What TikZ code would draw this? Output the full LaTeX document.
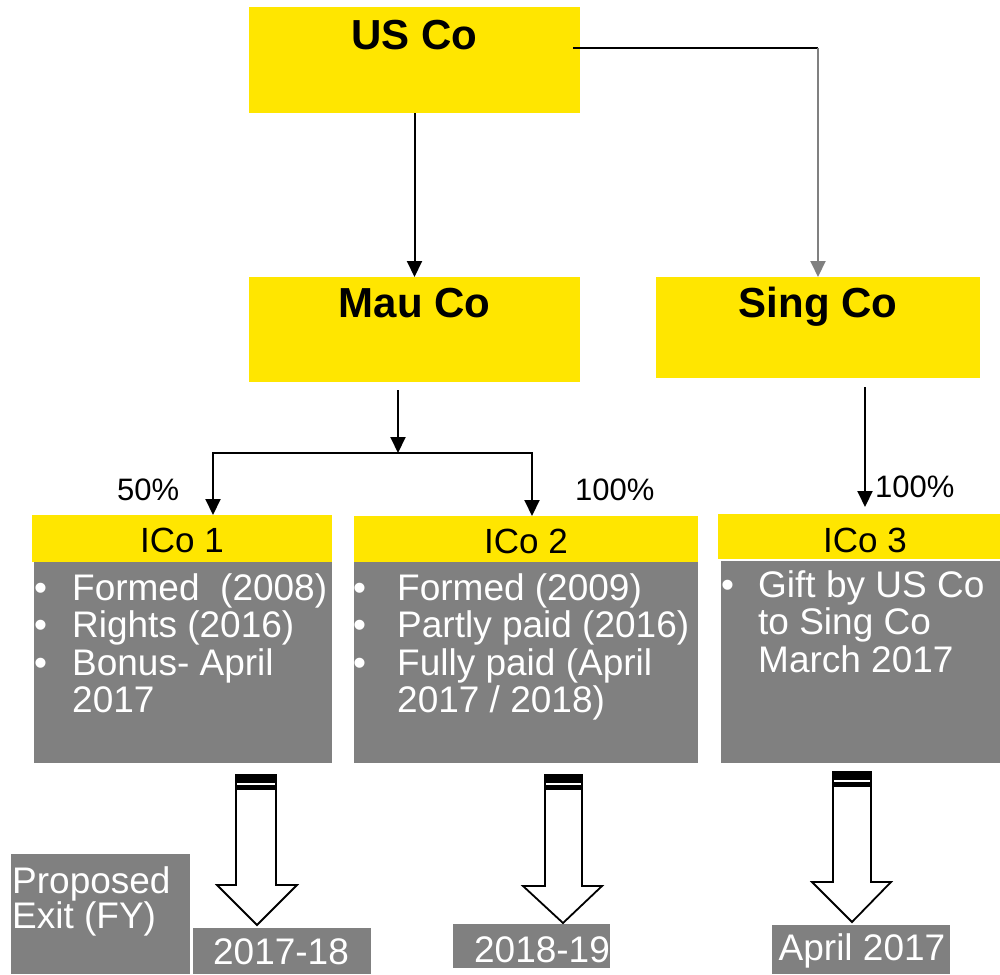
\documentclass[tikz,border=0pt]{standalone}
\usepackage{fontspec}
\setmainfont{Liberation Sans}
\usetikzlibrary{arrows.meta}
\definecolor{brandyellow}{HTML}{FFE600}
\definecolor{slategrey}{HTML}{808080}

% one bullet item with a hanging indent of #1
\newcommand\bulletitem[2]{\par\noindent\hangindent=#1\hangafter=1\makebox[#1][l]{\kern1pt\textbullet}#2}

% hollow down arrow with a striped tail:
% #1,#2 shaft left/right, #3 top, #4 shoulder, #5,#6 head left/right, #7,#8 tip
\newcommand\exitarrow[8]{%
  \filldraw[fill=white, draw=black, line width=1.8pt, line join=miter]
    (#1,#3) -- (#2,#3) -- (#2,#4) -- (#6,#4) -- (#7,#8) -- (#5,#4) -- (#1,#4) -- cycle;
  \fill[black] (#1-0.9,#3-0.9) rectangle (#2+0.9,#3+15);
  \fill[white] (#1+1,#3+7.5) rectangle (#2-1,#3+10);
}

\begin{document}
\begin{tikzpicture}[x=1pt, y=-1pt,
  ybox/.style={fill=brandyellow, draw=none, inner sep=0pt, outer sep=0pt, anchor=north west},
  gbox/.style={fill=slategrey, draw=none, inner sep=0pt, outer sep=0pt, anchor=north west},
  title/.style={inner sep=0pt, anchor=base, font=\fontsize{42}{46}\selectfont\bfseries},
  head/.style={inner sep=0pt, anchor=base, font=\fontsize{35}{38}\selectfont},
  body/.style={inner sep=0pt, anchor=base west, text=white, font=\fontsize{37}{37.5}\selectfont},
  datetxt/.style={inner sep=0pt, anchor=base, text=white, font=\fontsize{37}{38}\selectfont},
  pct/.style={inner sep=0pt, anchor=base west, font=\fontsize{31}{34}\selectfont},
  link/.style={line width=2pt},
  conn/.style={line width=2pt, -{Triangle[length=16pt,width=15pt]}},
]
\useasboundingbox (0,0) rectangle (1000,974);

% top level companies
\node[ybox, minimum width=331pt, minimum height=106pt] (usbox) at (249,7) {};
\node[title] (ustitle) at (414.5,49) {US Co};
\node[ybox, minimum width=331pt, minimum height=105pt] (maubox) at (249,277) {};
\node[title] (mautitle) at (414.5,317) {Mau Co};
\node[ybox, minimum width=324pt, minimum height=101pt] (singbox) at (656,277) {};
\node[title] (singtitle) at (818,317) {Sing Co};

% Indian companies: yellow header over grey body
\node[ybox, minimum width=300pt, minimum height=47pt] (ico1head) at (32,515) {};
\node[gbox, minimum width=298pt, minimum height=201pt] (ico1body) at (34,562) {};
\node[head] (ico1title) at (182,552) {ICo 1};

\node[ybox, minimum width=344pt, minimum height=46pt] (ico2head) at (354,516) {};
\node[gbox, minimum width=344pt, minimum height=201pt] (ico2body) at (354,562) {};
\node[head] (ico2title) at (526,553) {ICo 2};

\node[ybox, minimum width=282pt, minimum height=45pt] (ico3head) at (718,514) {};
\node[gbox, minimum width=279pt, minimum height=202pt] (ico3body) at (721,561) {};
\node[head] (ico3title) at (865,552) {ICo 3};

% bullet lists
\node[body] (ico1list) at (33,600) {\parbox[t]{300pt}{\raggedright
  \bulletitem{39pt}{Formed\ \ (2008)}
  \bulletitem{39pt}{Rights (2016)}
  \bulletitem{39pt}{Bonus- April\newline 2017}}};
\node[body] (ico2list) at (352,600) {\parbox[t]{345pt}{\raggedright
  \bulletitem{45pt}{Formed (2009)}
  \bulletitem{45pt}{Partly paid (2016)}
  \bulletitem{45pt}{Fully paid (April\newline 2017 / 2018)}}};
\node[body] (ico3list) at (720,597) {\parbox[t]{280pt}{\raggedright
  \bulletitem{38pt}{Gift by US Co\newline to Sing Co\newline March 2017}}};

% shareholding percentages
\node[pct] (pct1) at (117,500) {50\%};
\node[pct] (pct2) at (575,500) {100\%};
\node[pct] (pct3) at (875,497) {100\%};

% ownership connectors
\draw[conn] (usbox.south) -- (maubox.north);
\coordinate (usout) at (573,48);
\coordinate (uscorner) at (818,48);
\draw[link] (usout) -- (uscorner);
\draw[conn, draw=slategrey, color=slategrey] (uscorner) -- (singbox.north);

\coordinate (mauout) at (398,390);
\coordinate (bus) at (398,453);
\coordinate (busleft) at (213,453);
\coordinate (busright) at (532,453);
\draw[conn] (mauout) -- (bus);
\draw[link, line cap=rect] (busleft) -- (busright);
\draw[conn] (busleft) -- (busleft |- ico1head.north);
\draw[conn] (busright) -- (busright |- ico2head.north);

\coordinate (singout) at (865,387);
\draw[conn] (singout) -- (singout |- 0,507);

% proposed exit labels
\node[gbox, minimum width=179pt, minimum height=120pt] (exitbox) at (11,854) {};
\node[body, font=\fontsize{37}{35}\selectfont] (exitlabel) at (12,893)
  {\parbox[t]{178pt}{\raggedright Proposed\newline Exit (FY)}};

\node[gbox, minimum width=178pt, minimum height=46pt] (date1box) at (193,928) {};
\node[datetxt] (date1) at (281,964) {2017-18};
\node[gbox, minimum width=157pt, minimum height=44pt] (date2box) at (453,924) {};
\node[datetxt] (date2) at (542,962) {2018-19};
\node[gbox, minimum width=178pt, minimum height=49pt] (date3box) at (772,925) {};
\node[datetxt] (date3) at (862,960) {April 2017};

% exit arrows from each company to its exit year
\exitarrow{236}{276}{775}{885}{217}{297}{257}{925}
\exitarrow{545}{582}{775}{886}{523}{602}{563}{923}
\exitarrow{833}{871}{772}{882}{812}{891}{852}{922}
\end{tikzpicture}
\end{document}
